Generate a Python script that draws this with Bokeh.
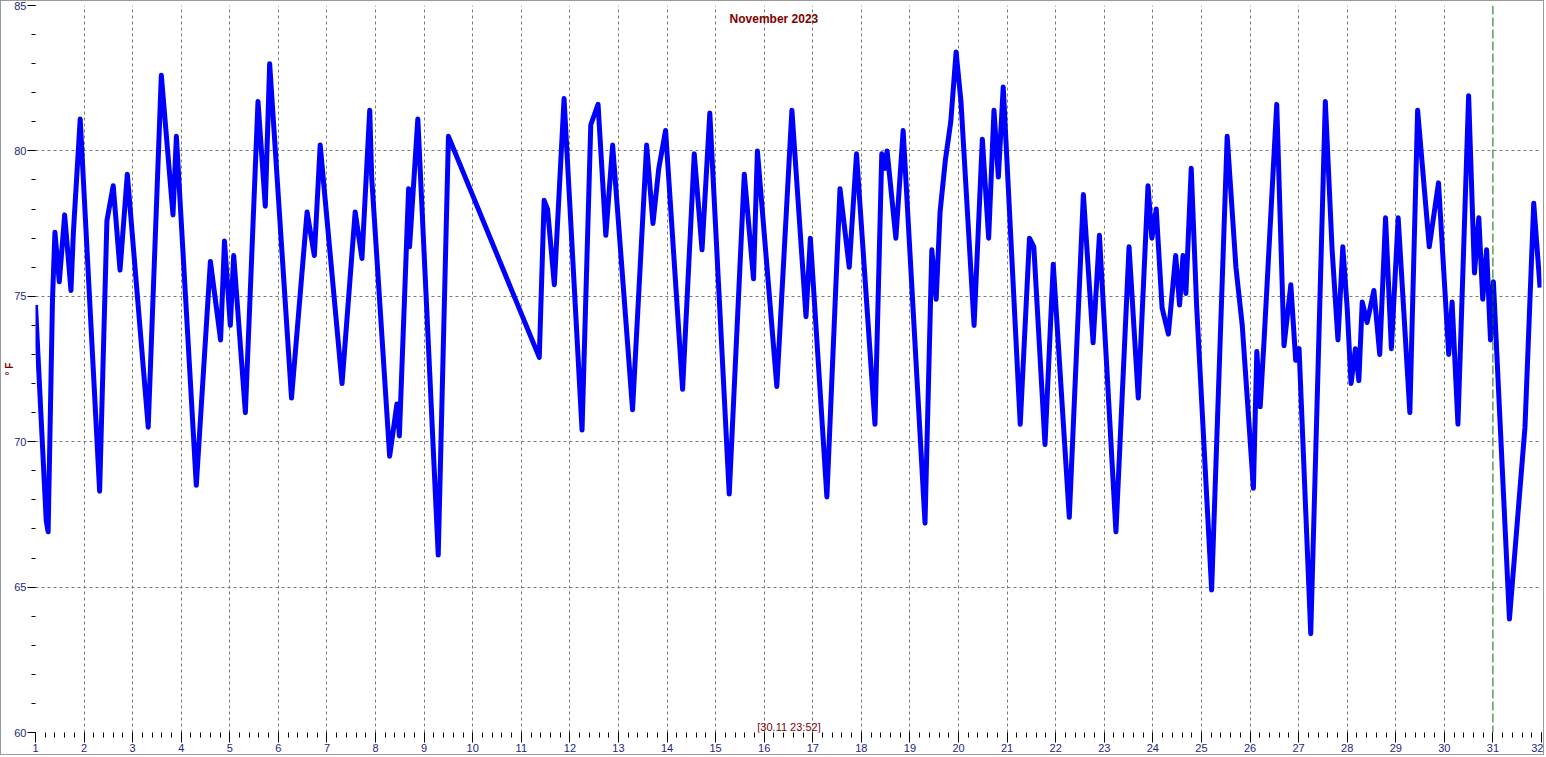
from bokeh.plotting import figure
from bokeh.models import Range1d, SingleIntervalTicker, FixedTicker, Span, Label
from bokeh.embed import file_html
from bokeh.resources import INLINE

# ---- data ----
days = [
    1.00, 1.22, 1.26, 1.35, 1.40, 1.49, 1.60, 1.73, 1.78, 1.92,
    2.32, 2.47, 2.60, 2.74, 2.89, 3.32, 3.59, 3.83, 3.90, 4.31,
    4.60, 4.81, 4.89, 5.01, 5.08, 5.32, 5.58, 5.73, 5.82, 6.27,
    6.59, 6.74, 6.86, 7.31, 7.58, 7.72, 7.88, 7.92, 8.29, 8.44,
    8.49, 8.68, 8.70, 8.87, 9.29, 9.50, 11.37, 11.47, 11.54, 11.68,
    11.88, 12.25, 12.43, 12.58, 12.74, 12.88, 13.29, 13.58, 13.71, 13.83,
    13.97, 14.32, 14.56, 14.72, 14.88, 15.28, 15.59, 15.78, 15.86, 16.26,
    16.57, 16.86, 16.95, 17.29, 17.56, 17.75, 17.90, 18.28, 18.42, 18.49,
    18.53, 18.71, 18.86, 19.31, 19.45, 19.54, 19.62, 19.73, 19.84, 19.95,
    20.05, 20.32, 20.49, 20.62, 20.73, 20.82, 20.92, 21.27, 21.46, 21.55,
    21.78, 21.95, 22.28, 22.57, 22.77, 22.90, 23.24, 23.51, 23.70, 23.90,
    23.98, 24.07, 24.19, 24.32, 24.47, 24.55, 24.62, 24.68, 24.79, 24.90,
    25.21, 25.53, 25.71, 25.84, 25.98, 26.07, 26.14, 26.21, 26.29, 26.55,
    26.70, 26.84, 26.94, 27.01, 27.25, 27.40, 27.55, 27.69, 27.81, 27.91,
    28.00, 28.08, 28.17, 28.24, 28.31, 28.41, 28.55, 28.67, 28.79, 28.91,
    29.05, 29.29, 29.45, 29.69, 29.88, 30.09, 30.16, 30.28, 30.50, 30.62,
    30.71, 30.79, 30.87, 30.95, 31.01, 31.34, 31.66, 31.84, 31.97,
]
temps = [
    74.7, 67.3, 66.9, 74.9, 77.2, 75.5, 77.8, 75.2, 77.2, 81.1,
    68.3, 77.6, 78.8, 75.9, 79.2, 70.5, 82.6, 77.8, 80.5, 68.5,
    76.2, 73.5, 76.9, 74.0, 76.4, 71.0, 81.7, 78.1, 83.0, 71.5,
    77.9, 76.4, 80.2, 72.0, 77.9, 76.3, 81.4, 79.1, 69.5, 71.3,
    70.2, 78.7, 76.7, 81.1, 66.1, 80.5, 72.9, 78.3, 78.0, 75.4,
    81.8, 70.4, 80.9, 81.6, 77.1, 80.2, 71.1, 80.2, 77.5, 79.4,
    80.7, 71.8, 79.9, 76.6, 81.3, 68.2, 79.2, 75.6, 80.0, 71.9,
    81.4, 74.3, 77.0, 68.1, 78.7, 76.0, 79.9, 70.6, 79.9, 79.4,
    80.0, 77.0, 80.7, 67.2, 76.6, 74.9, 77.9, 79.7, 81.0, 83.4,
    81.7, 74.0, 80.4, 77.0, 81.4, 79.1, 82.2, 70.6, 77.0, 76.7,
    69.9, 76.1, 67.4, 78.5, 73.4, 77.1, 66.9, 76.7, 71.5, 78.8,
    77.0, 78.0, 74.6, 73.7, 76.4, 74.7, 76.4, 75.1, 79.4, 74.7,
    64.9, 80.5, 76.0, 74.0, 70.6, 68.4, 73.1, 71.2, 73.5, 81.6,
    73.3, 75.4, 72.8, 73.2, 63.4, 72.5, 81.7, 76.6, 73.5, 76.7,
    74.6, 72.0, 73.2, 72.1, 74.8, 74.1, 75.2, 73.0, 77.7, 73.2,
    77.7, 71.0, 81.4, 76.7, 78.9, 73.0, 74.8, 70.6, 81.9, 75.8,
    77.7, 74.9, 76.6, 73.5, 75.5, 63.9, 70.5, 78.2, 75.3,
]
x_grid_days = list(range(2, 31))
y_grid_temps = [65, 70, 75, 80]
marker_day = 31
title_text = "November 2023"
unit_text = "° F"
stamp_text = "[30.11 23:52]"

DARK_RED = "#800000"
TICK_TXT = "#24247f"
FONT = "Liberation Sans"

p = figure(width=1544, height=755, output_backend="svg", toolbar_location=None,
           x_range=Range1d(1, 32), y_range=Range1d(60, 85),
           min_border_left=33, min_border_right=4, min_border_top=4, min_border_bottom=24,
           background_fill_color="white", border_fill_color="white",
           styles={"border": "1px solid #9a9a9a"})
p.outline_line_color = None

# axes
xa = p.xaxis[0]
xa.ticker = SingleIntervalTicker(interval=1, num_minor_ticks=5)
ya = p.yaxis[0]
ya.ticker = SingleIntervalTicker(interval=5, num_minor_ticks=5)
for ax, mt, mn in ((xa, 10, 5), (ya, 8, 4)):
    ax.axis_line_color = None
    ax.major_tick_out = mt
    ax.major_tick_in = 0
    ax.minor_tick_out = mn
    ax.minor_tick_in = 0
    ax.major_tick_line_color = "black"
    ax.minor_tick_line_color = "black"
    ax.major_label_text_font = FONT
    ax.major_label_text_font_size = "11px"
    ax.major_label_text_color = TICK_TXT
    ax.major_label_standoff = 1

ya.axis_label = unit_text
ya.axis_label_text_font = FONT
ya.axis_label_text_font_size = "10px"
ya.axis_label_text_font_style = "bold"
ya.axis_label_text_color = DARK_RED
ya.axis_label_standoff = -4

# grids
p.xgrid.ticker = FixedTicker(ticks=x_grid_days)
p.ygrid.ticker = FixedTicker(ticks=y_grid_temps)
for g in (p.xgrid, p.ygrid):
    g.grid_line_color = "#7a7a7a"
    g.grid_line_dash = "3 3"
    g.grid_line_width = 1

p.add_layout(Span(location=marker_day, dimension="height", line_color="#0a6e0a",
                  line_dash="9 3", line_width=1))

p.line(days, temps, line_color="#0000ff", line_width=5, line_join="round")

p.add_layout(Label(x=16.2, y=84.55, text=title_text, text_align="center",
                   text_baseline="middle", text_font=FONT, text_font_size="12px",
                   text_font_style="bold", text_color=DARK_RED))
p.add_layout(Label(x=16.51, y=60.2, text=stamp_text, text_align="center",
                   text_baseline="middle", text_font=FONT, text_font_size="11px",
                   text_color=DARK_RED))

open("out.html", "w").write(file_html(p, INLINE))
